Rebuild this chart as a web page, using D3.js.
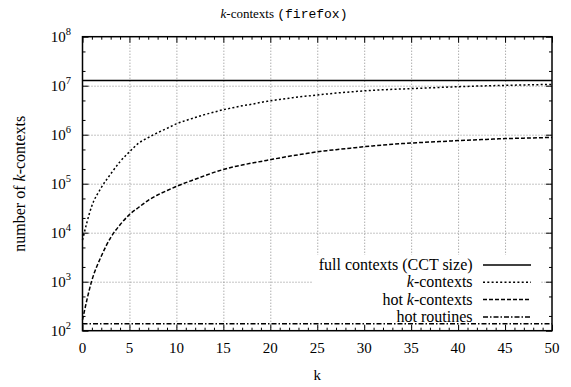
<!DOCTYPE html>
<html>
<head>
<meta charset="utf-8">
<script src="https://cdn.jsdelivr.net/npm/d3@7"></script>
<style>
  body { margin: 0; background: #fff; }
  svg { display: block; }
  text { font-family: "Liberation Serif", serif; fill: #000; }
  .mono { font-family: "Liberation Mono", monospace; }
  .grid line { stroke: #888; stroke-width: 1; stroke-dasharray: 1,2; }
  .grid path { display: none; }
  .ax path { display: none; }
  .ax line { stroke: #000; stroke-width: 1; }
</style>
</head>
<body>
<svg></svg>
<script>
let width = 571;
let height = 387;
let margin = { left: 82.5, right: 19, top: 36.7, bottom: 56.3 };

// k values on the x axis
let kValues = d3.range(0, 51);

// series (one value per k)
let fullContexts = 1.28e7;
let hotRoutines = 138;

let kContexts = [
  7100, 35500, 83200, 158000, 282000, 447000, 676000, 871000, 1100000, 1350000,
  1660000, 1950000, 2240000, 2570000, 2880000, 3240000, 3550000, 3890000, 4170000, 4570000,
  4900000, 5250000, 5560000, 5890000, 6170000, 6460000, 6760000, 7080000, 7330000, 7590000,
  7850000, 8060000, 8250000, 8430000, 8570000, 8710000, 8870000, 9040000, 9200000, 9380000,
  9550000, 9680000, 9820000, 9930000, 10050000, 10160000, 10260000, 10350000, 10450000, 10540000,
  10640000
];

let hotKContexts = [
  166, 1070, 3310, 7940, 14500, 23400, 33100, 45700, 58900, 72400,
  88100, 105000, 123000, 145000, 170000, 195000, 219000, 240000, 263000, 285000,
  309000, 335000, 363000, 389000, 417000, 447000, 473000, 495000, 519000, 543000,
  569000, 592000, 614000, 636000, 658000, 676000, 692000, 708000, 724000, 741000,
  759000, 773000, 787000, 802000, 817000, 832000, 841000, 851000, 861000, 871000,
  881000
];

let xTicks = [0, 5, 10, 15, 20, 25, 30, 35, 40, 45, 50];
let yExponents = [2, 3, 4, 5, 6, 7, 8];

let legendLabels = ["full contexts (CCT size)", "k-contexts", "hot k-contexts", "hot routines"];
let dashes = [null, "2,2.3", "4,2", "5,2,1.5,2"];

let svg = d3.select("svg").attr("width", width).attr("height", height);

let x0 = margin.left, x1 = width - margin.right;
let y0 = height - margin.bottom, y1 = margin.top;

let xScale = d3.scaleLinear().domain([0, 50]).range([x0, x1]);
let yScale = d3.scaleLog().domain([1e2, 1e8]).range([y0, y1]);

let yMajor = yExponents.map(e => Math.pow(10, e));
let yMinor = [];
yExponents.slice(0, -1).forEach(e => {
  yMinor.push(2 * Math.pow(10, e), 5 * Math.pow(10, e));
});

// grid
svg.append("g").attr("class", "grid")
  .attr("transform", "translate(0," + y0 + ")")
  .call(d3.axisBottom(xScale).tickValues(xTicks.slice(1, -1)).tickSize(-(y0 - y1)).tickFormat(""));
svg.append("g").attr("class", "grid")
  .attr("transform", "translate(" + x0 + ",0)")
  .call(d3.axisLeft(yScale).tickValues(yMajor.slice(1, -1)).tickSize(-(x1 - x0)).tickFormat(""));

// legend background
let legX = 472.6, legSample = [483, 531], legY0 = 265, legStep = 17.3;
svg.append("rect")
  .attr("x", 313).attr("y", 255)
  .attr("width", 227).attr("height", 71)
  .attr("fill", "#fff");

// series
let line = d3.line()
  .x((d, i) => xScale(kValues[i]))
  .y(d => yScale(d))
  .curve(d3.curveMonotoneX);

let series = [
  kValues.map(() => fullContexts),
  kContexts,
  hotKContexts,
  kValues.map(() => hotRoutines)
];

series.forEach((s, i) => {
  svg.append("path")
    .datum(s)
    .attr("d", line)
    .attr("fill", "none")
    .attr("stroke", "#000")
    .attr("stroke-width", i == 0 ? 1.6 : 1.5)
    .attr("stroke-dasharray", dashes[i]);
});

// axes (ticks point inward, mirrored on top and right)
let addTicks = (axisFn, scale, values, size, transform) => {
  svg.append("g").attr("class", "ax")
    .attr("transform", transform)
    .call(axisFn(scale).tickValues(values).tickSize(size).tickFormat(""));
};
let xMinorTicks = kValues.filter(k => k % 5 != 0);
addTicks(d3.axisBottom, xScale, xTicks, -6, "translate(0," + y0 + ")");
addTicks(d3.axisBottom, xScale, xMinorTicks, -3, "translate(0," + y0 + ")");
addTicks(d3.axisTop, xScale, xTicks, -6, "translate(0," + y1 + ")");
addTicks(d3.axisTop, xScale, xMinorTicks, -3, "translate(0," + y1 + ")");
addTicks(d3.axisLeft, yScale, yMajor, -6, "translate(" + x0 + ",0)");
addTicks(d3.axisLeft, yScale, yMinor, -3, "translate(" + x0 + ",0)");
addTicks(d3.axisRight, yScale, yMajor, -6, "translate(" + x1 + ",0)");
addTicks(d3.axisRight, yScale, yMinor, -3, "translate(" + x1 + ",0)");

// border
svg.append("rect")
  .attr("x", x0).attr("y", y1)
  .attr("width", x1 - x0).attr("height", y0 - y1)
  .attr("fill", "none").attr("stroke", "#000").attr("stroke-width", 1.5);

// x tick labels
svg.append("g").selectAll("text")
  .data(xTicks).enter().append("text")
  .attr("x", d => xScale(d))
  .attr("y", y0 + 22.5)
  .attr("text-anchor", "middle")
  .attr("font-size", 15)
  .text(d => d);

// y tick labels 10^n
let yLab = svg.append("g").selectAll("text")
  .data(yExponents).enter().append("text")
  .attr("x", 71)
  .attr("y", d => yScale(Math.pow(10, d)) + 5)
  .attr("text-anchor", "end")
  .attr("font-size", 15);
yLab.append("tspan").text("10");
yLab.append("tspan").attr("font-size", 10.5).attr("dy", -7).text(d => d);

// axis titles
svg.append("text")
  .attr("x", (x0 + x1) / 2).attr("y", 380)
  .attr("text-anchor", "middle").attr("font-size", 15)
  .text("k");

let yTitle = svg.append("text")
  .attr("transform", "translate(25," + ((y0 + y1) / 2) + ") rotate(-90)")
  .attr("text-anchor", "middle").attr("font-size", 16);
yTitle.append("tspan").text("number of ");
yTitle.append("tspan").attr("font-style", "italic").text("k");
yTitle.append("tspan").text("-contexts");

// title
let title = svg.append("text")
  .attr("x", 284).attr("y", 18)
  .attr("text-anchor", "middle").attr("font-size", 13);
title.append("tspan").attr("font-style", "italic").text("k");
title.append("tspan").text("-contexts ");
title.append("tspan").attr("class", "mono").text("(firefox)");

// legend
legendLabels.forEach((lab, i) => {
  let yy = legY0 + i * legStep;
  let t = svg.append("text")
    .attr("x", legX).attr("y", yy + 5)
    .attr("text-anchor", "end").attr("font-size", 16);
  if (lab.indexOf("k-") >= 0) {
    let parts = lab.split("k-");
    if (parts[0]) t.append("tspan").text(parts[0]);
    t.append("tspan").attr("font-style", "italic").text("k");
    t.append("tspan").text("-" + parts[1]);
  } else {
    t.text(lab);
  }
  svg.append("line")
    .attr("x1", legSample[0]).attr("x2", legSample[1])
    .attr("y1", yy).attr("y2", yy)
    .attr("stroke", "#000")
    .attr("stroke-width", i == 0 ? 1.6 : 1.5)
    .attr("stroke-dasharray", dashes[i]);
});
</script>
</body>
</html>
